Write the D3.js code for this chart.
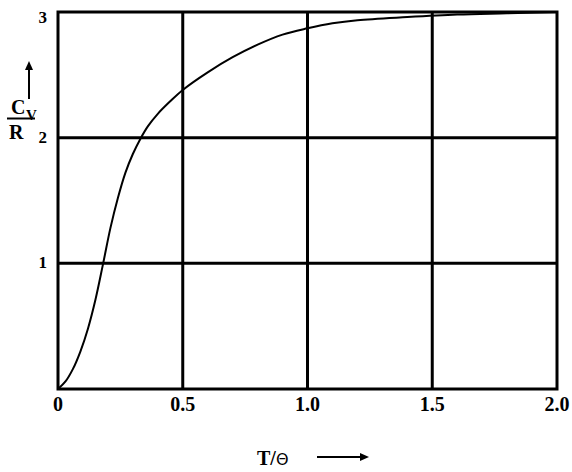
<!DOCTYPE html>
<html>
<head>
<meta charset="utf-8">
<script src="https://cdn.jsdelivr.net/npm/d3@7"></script>
<style>
    body { margin: 0; background: #fff; }
    text { font-family: "Liberation Serif", "Times New Roman", serif; font-weight: bold; fill: #000; }
</style>
</head>
<body>
<div id="my_dataviz"></div>
<script>
// values
var tTheta = [0, 0.03, 0.06, 0.09, 0.12, 0.15, 0.18, 0.21, 0.24, 0.27, 0.30, 0.33, 0.36,
    0.40, 0.45, 0.50, 0.60, 0.70, 0.80, 0.90, 1.00, 1.10, 1.20, 1.40, 1.60, 1.80, 2.00];
var cvR = [0, 0.06, 0.16, 0.30, 0.48, 0.71, 0.99, 1.28, 1.52, 1.72, 1.87, 1.99, 2.09,
    2.19, 2.29, 2.38, 2.52, 2.64, 2.74, 2.82, 2.87, 2.91, 2.935, 2.96, 2.98, 2.99, 3.0];
var xTicks = [0, 0.5, 1.0, 1.5, 2.0];
var xTickLabels = ["0", "0.5", "1.0", "1.5", "2.0"];
var yTicks = [1, 2, 3];
var yTickLabels = ["1", "2", "3"];

(function () {
    var margin = {
            top: 12,
            right: 15,
            bottom: 83,
            left: 58
        },
        width = 572 - margin.left - margin.right,
        height = 472 - margin.top - margin.bottom;

    var svg = d3
        .select("#my_dataviz")
        .append("svg")
        .attr("width", 572)
        .attr("height", 472);

    var g = svg
        .append("g")
        .attr("transform", "translate(" + margin.left + "," + margin.top + ")");

    var x = d3.scaleLinear().domain([0, 2]).range([0, width]);
    var y = d3.scaleLinear().domain([0, 3]).range([height, 0]);

    // grid lines
    g.append("g")
        .selectAll("line")
        .data(xTicks.slice(1, -1))
        .enter()
        .append("line")
        .attr("x1", function (d) { return x(d); })
        .attr("x2", function (d) { return x(d); })
        .attr("y1", 0)
        .attr("y2", height)
        .attr("stroke", "#000")
        .attr("stroke-width", 3);

    g.append("g")
        .selectAll("line")
        .data(yTicks.slice(0, -1))
        .enter()
        .append("line")
        .attr("x1", 0)
        .attr("x2", width)
        .attr("y1", function (d) { return y(d); })
        .attr("y2", function (d) { return y(d); })
        .attr("stroke", "#000")
        .attr("stroke-width", 3);

    // frame
    g.append("rect")
        .attr("x", 0)
        .attr("y", 0)
        .attr("width", width)
        .attr("height", height)
        .attr("fill", "none")
        .attr("stroke", "#000")
        .attr("stroke-width", 3);

    // the curve
    var line = d3.line()
        .x(function (d, i) { return x(tTheta[i]); })
        .y(function (d) { return y(d); })
        .curve(d3.curveCatmullRom.alpha(0.5));

    g.append("path")
        .datum(cvR)
        .attr("d", line)
        .attr("fill", "none")
        .attr("stroke", "#000")
        .attr("stroke-width", 2);

    // tick labels
    g.append("g")
        .selectAll("text")
        .data(xTicks)
        .enter()
        .append("text")
        .attr("x", function (d) { return x(d); })
        .attr("y", height + 22)
        .attr("text-anchor", "middle")
        .style("font-size", "20px")
        .text(function (d, i) { return xTickLabels[i]; });

    g.append("g")
        .selectAll("text")
        .data(yTicks)
        .enter()
        .append("text")
        .attr("x", -11)
        .attr("y", function (d) { return y(d) + (d == 3 ? 11 : 5); })
        .attr("text-anchor", "end")
        .style("font-size", "17px")
        .text(function (d, i) { return yTickLabels[i]; });

    // y axis label: Cv / R with arrow
    var yl = svg.append("g");
    yl.append("line")
        .attr("x1", 29).attr("x2", 29)
        .attr("y1", 99).attr("y2", 68)
        .attr("stroke", "#000").attr("stroke-width", 2);
    yl.append("path")
        .attr("d", "M29,61 L25,70 L33,70 Z")
        .attr("fill", "#000");
    yl.append("text")
        .attr("x", 11).attr("y", 114)
        .style("font-size", "20px")
        .text("C");
    yl.append("text")
        .attr("x", 26).attr("y", 120)
        .style("font-size", "15px")
        .text("V");
    yl.append("line")
        .attr("x1", 7).attr("x2", 35)
        .attr("y1", 118.5).attr("y2", 118.5)
        .attr("stroke", "#000").attr("stroke-width", 2);
    yl.append("text")
        .attr("x", 9).attr("y", 139)
        .style("font-size", "20px")
        .text("R");

    // x axis label: T/Θ with arrow
    var xl = svg.append("g");
    var xt = xl.append("text")
        .attr("x", 257).attr("y", 465)
        .style("font-size", "20px");
    xt.append("tspan").text("T/");
    xt.append("tspan")
        .style("font-weight", "normal")
        .style("font-size", "16px")
        .attr("font-family", "DejaVu Sans")
        .text("\u0398");
    xl.append("line")
        .attr("x1", 317).attr("x2", 362)
        .attr("y1", 457).attr("y2", 457)
        .attr("stroke", "#000").attr("stroke-width", 2);
    xl.append("path")
        .attr("d", "M369,457 L360,453 L360,461 Z")
        .attr("fill", "#000");
})();
</script>
</body>
</html>
